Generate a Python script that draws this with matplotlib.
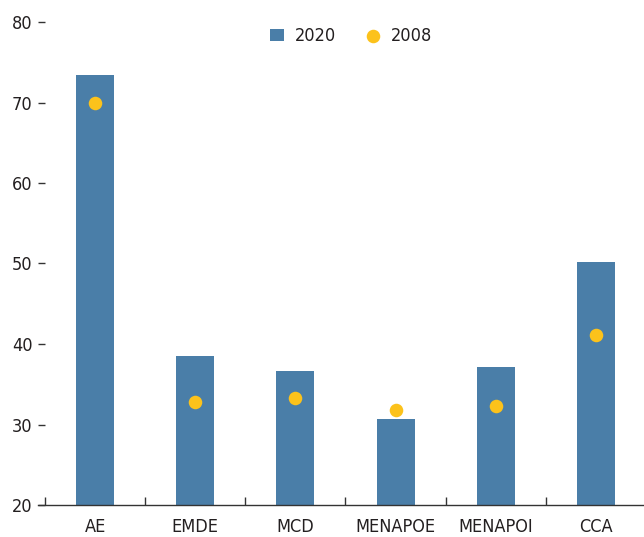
import matplotlib

matplotlib.use("Agg")

import matplotlib.pyplot as plt
from matplotlib.ticker import FixedLocator

plt.rcParams["font.family"] = ["DejaVu Sans"]
plt.rcParams["font.stretch"] = "condensed"

categories = ["AE", "EMDE", "MCD", "MENAPOE", "MENAPOI", "CCA"]
values_2020 = [73.4, 38.5, 36.6, 30.7, 37.1, 50.2]
values_2008 = [69.9, 32.8, 33.3, 31.8, 32.3, 41.1]

bar_color = "#4a7ea8"
dot_color = "#fcc21b"
text_color = "#231f20"

fig = plt.figure(figsize=(6.44, 5.37), dpi=100)
ax = fig.add_axes([45 / 644, 32 / 537, 601 / 644, 483 / 537])

x = list(range(len(categories)))
bars = ax.bar(x, [v - 20 for v in values_2020], bottom=20, width=0.38,
              color=bar_color, label="2020", zorder=2)
dots = ax.scatter(x, values_2008, s=95, color=dot_color, label="2008",
                  zorder=3, linewidths=0)

ax.set_xlim(-0.5, 5.5)
ax.set_ylim(20, 80)
ax.set_yticks(range(20, 81, 10))
ax.set_xticks(x)
ax.set_xticklabels(categories)
ax.xaxis.set_minor_locator(FixedLocator([i - 0.5 for i in x]))

for side in ("left", "top", "right"):
    ax.spines[side].set_visible(False)
ax.spines["bottom"].set_color("#333333")
ax.spines["bottom"].set_linewidth(1.0)
ax.spines["bottom"].set_bounds(-0.57, 5.5)

ax.tick_params(axis="y", length=5, width=1, color="#333333", pad=4,
               labelsize=13, labelcolor=text_color)
ax.tick_params(axis="x", which="major", length=0, pad=9,
               labelsize=13, labelcolor=text_color)
ax.tick_params(axis="x", which="minor", direction="in", length=6, width=1,
               color="#333333")

leg = ax.legend([bars, dots], ["2020", "2008"], loc="upper center",
                bbox_to_anchor=(0.509, 1.023), ncol=2, frameon=False,
                fontsize=13, handlelength=0.8, handletextpad=0.6,
                columnspacing=1.6)
for t in leg.get_texts():
    t.set_color(text_color)

fig.savefig("out.png", dpi=100)
